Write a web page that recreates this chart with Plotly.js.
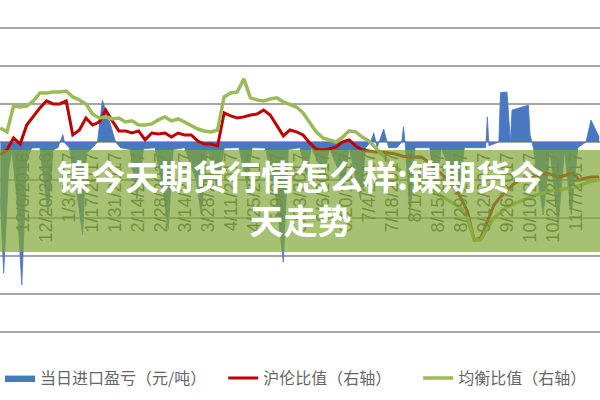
<!DOCTYPE html>
<html>
<head>
<meta charset="utf-8">
<script src="https://cdn.plot.ly/plotly-3.0.1.min.js"></script>
<style>html,body{margin:0;padding:0;background:#fff;}#chart{width:600px;height:400px;}</style>
</head>
<body>
<div id="chart"></div>
<script>
// ---- data ----
const lineDates = ['2016-11-22','2016-11-26','2016-11-30','2016-12-04','2016-12-08','2016-12-12','2016-12-16','2016-12-20','2016-12-24','2016-12-28',
'2017-01-01','2017-01-05','2017-01-09','2017-01-13','2017-01-17','2017-01-21','2017-01-25','2017-01-29','2017-02-02','2017-02-06',
'2017-02-10','2017-02-14','2017-02-18','2017-02-22','2017-02-26','2017-03-02','2017-03-06','2017-03-10','2017-03-14','2017-03-18',
'2017-03-22','2017-03-26','2017-03-30','2017-04-03','2017-04-07','2017-04-11','2017-04-15','2017-04-19','2017-04-23','2017-04-27',
'2017-05-01','2017-05-05','2017-05-09','2017-05-13','2017-05-17','2017-05-21','2017-05-25','2017-05-29','2017-06-02','2017-06-06',
'2017-06-10','2017-06-14','2017-06-18','2017-06-22','2017-06-26','2017-06-30','2017-07-04','2017-07-08','2017-07-12','2017-07-16',
'2017-07-20','2017-07-24','2017-07-28','2017-08-01','2017-08-05','2017-08-09','2017-08-13','2017-08-17','2017-08-21','2017-08-25',
'2017-08-29','2017-09-02','2017-09-06','2017-09-10','2017-09-14','2017-09-18','2017-09-22','2017-09-26','2017-09-30','2017-10-04',
'2017-10-08','2017-10-12','2017-10-16','2017-10-20','2017-10-24','2017-10-28','2017-11-01','2017-11-05','2017-11-09','2017-11-13',
'2017-11-17','2017-11-21'];

// 沪伦比值 (右轴)
const shLmeRatio = [7.532,7.558,7.621,7.589,7.689,7.737,7.779,7.816,7.800,7.800,
7.816,7.637,7.663,7.726,7.689,7.705,7.768,7.711,7.658,7.658,
7.647,7.658,7.611,7.647,7.642,7.647,7.626,7.647,7.637,7.637,
7.605,7.589,7.589,7.579,7.753,7.737,7.726,7.732,7.742,7.747,
7.768,7.742,7.689,7.632,7.663,7.653,7.637,7.595,7.563,7.558,
7.563,7.574,7.600,7.611,7.579,7.558,7.553,7.547,7.547,7.542,
7.537,7.526,7.521,7.521,7.521,7.495,7.463,7.432,7.400,7.358,
7.305,7.232,7.084,7.095,7.179,7.268,7.311,7.347,7.379,7.400,
7.411,7.416,7.426,7.437,7.426,7.416,7.426,7.437,7.400,7.411,
7.416,7.416];

// 均衡比值 (右轴)
const balanceRatio = [7.674,7.653,7.789,7.784,7.789,7.816,7.858,7.858,7.863,7.863,
7.868,7.837,7.821,7.800,7.747,7.726,7.732,7.721,7.726,7.705,
7.711,7.689,7.689,7.695,7.716,7.732,7.711,7.721,7.705,7.684,
7.668,7.658,7.653,7.663,7.837,7.858,7.863,7.932,7.832,7.821,
7.816,7.826,7.832,7.811,7.795,7.784,7.753,7.700,7.653,7.621,
7.611,7.600,7.626,7.658,7.653,7.626,7.605,7.568,7.532,7.500,
7.468,7.442,7.421,7.400,7.374,7.353,7.337,7.316,7.295,7.279,
7.253,7.200,7.084,7.084,7.147,7.200,7.232,7.258,7.274,7.289,
7.305,7.316,7.326,7.337,7.347,7.347,7.353,7.358,7.368,7.384,
7.395,7.400];

// 当日进口盈亏 (元/吨)
const profitDates = ['2016-11-22','2016-11-24','2016-11-27','2016-11-29','2016-12-02','2016-12-05','2016-12-08','2016-12-11','2016-12-16','2016-12-19',
'2016-12-21','2016-12-24','2016-12-27','2016-12-28','2016-12-30','2016-12-31','2017-01-03','2017-01-08','2017-01-11','2017-01-13',
'2017-01-17','2017-01-20','2017-01-23','2017-01-28','2017-01-31','2017-02-03','2017-02-09','2017-02-13','2017-02-17','2017-02-24',
'2017-03-01','2017-03-04','2017-03-07','2017-03-14','2017-03-21','2017-03-24','2017-03-28','2017-04-03','2017-04-07','2017-04-16',
'2017-04-21','2017-04-24','2017-05-02','2017-05-08','2017-05-13','2017-05-16','2017-05-23','2017-05-27','2017-05-30','2017-06-07',
'2017-06-10','2017-06-19','2017-06-22','2017-06-29','2017-07-02','2017-07-05','2017-07-07','2017-07-09','2017-07-13','2017-07-16',
'2017-07-21','2017-07-24','2017-07-25','2017-07-26','2017-07-29','2017-08-01','2017-08-10','2017-08-14','2017-08-17','2017-08-28',
'2017-08-31','2017-09-13','2017-09-14','2017-09-15','2017-09-21','2017-09-22','2017-09-26','2017-09-28','2017-09-29','2017-10-09',
'2017-10-10','2017-10-12','2017-10-18','2017-10-22','2017-10-27','2017-10-31','2017-11-04','2017-11-08','2017-11-13','2017-11-16',
'2017-11-21'];
const importProfit = [-1500,-3450,-740,-200,-1500,-3760,-470,-160,-150,-1260,
-1920,-210,-150,-20,190,-20,-160,-1500,-2450,-300,
-150,0,1100,450,0,-150,-200,-1500,-180,-150,
-1260,-2300,-200,-150,-1000,-1900,-180,-1260,-160,-150,
-1130,-150,-160,-1260,-3160,-200,-150,-870,-150,-870,
-150,-1130,-150,-1530,-150,0,240,-150,340,-150,
-150,0,400,0,-1970,-150,-150,-1260,-150,-1400,
-150,-150,660,-100,0,1300,1315,0,840,970,
180,-150,-1920,-200,-2180,-200,-1920,-150,0,580,
130];

const seriesNames = ['当日进口盈亏（元/吨）','沪伦比值（右轴）','均衡比值（右轴）'];
const titleText = '镍今天期货行情怎么样:镍期货今<br>天走势';

const legendFont = {family:'Noto Sans CJK SC, sans-serif', size:16, color:'#666666'};

const traces = [
  {x: profitDates, y: importProfit, name: seriesNames[0], type:'scatter', mode:'lines',
   fill:'tozeroy', fillcolor:'#4a78c0', line:{color:'#4a78c0', width:0.8}, yaxis:'y', legend:'legend'},
  {x: lineDates, y: shLmeRatio, name: seriesNames[1], type:'scatter', mode:'lines',
   line:{color:'#c00000', width:3}, yaxis:'y2', legend:'legend2'},
  {x: lineDates, y: balanceRatio, name: seriesNames[2], type:'scatter', mode:'lines',
   line:{color:'#9bbb59', width:3.5}, yaxis:'y2', legend:'legend3'}
];

const layout = {
  width:600, height:400,
  margin:{l:0, r:0, t:0, b:60, pad:0},
  paper_bgcolor:'#ffffff', plot_bgcolor:'#ffffff',
  showlegend:true,
  xaxis:{type:'date', range:['2016-11-21 18:00','2017-11-21 12:00'],
    tick0:'2016-11-22', dtick:14*86400000, tickformat:'%-m/%-d/%Y', tickangle:-90,
    tickfont:{family:'Liberation Sans, Arial, sans-serif', size:18, color:'#595959'},
    showgrid:false, zeroline:false, showline:false, ticks:'', automargin:false,
    anchor:'free', position:0.565},
  yaxis:{range:[-5210, 3737], dtick:1000, tick0:0, showticklabels:false, automargin:false,
    showgrid:true, gridcolor:'#a6a6a6', gridwidth:1.5, zeroline:false, showline:false, ticks:''},
  yaxis2:{overlaying:'y', side:'right', range:[6.558, 8.347], showgrid:false, automargin:false,
    showticklabels:false, zeroline:false, showline:false, ticks:''},
  legend:{orientation:'h', x:0, xanchor:'left', y:-0.112, yanchor:'middle', font:legendFont, bgcolor:'rgba(0,0,0,0)'},
  legend2:{orientation:'h', x:0.372, xanchor:'left', y:-0.112, yanchor:'middle', font:legendFont, bgcolor:'rgba(0,0,0,0)'},
  legend3:{orientation:'h', x:0.697, xanchor:'left', y:-0.112, yanchor:'middle', font:legendFont, bgcolor:'rgba(0,0,0,0)'},
  shapes:[{type:'rect', xref:'paper', yref:'paper', x0:0, x1:1, y0:0.2588, y1:0.5588,
    fillcolor:'rgba(128,166,52,0.7)', line:{width:0}, layer:'above'}],
  annotations:[{xref:'paper', yref:'paper', x:0.5, y:0.42, xanchor:'center', yanchor:'middle',
    text:titleText, showarrow:false,
    font:{family:'Noto Sans CJK SC, sans-serif', size:34, color:'#ffffff', weight:'bold'}}]
};

Plotly.newPlot('chart', traces, layout, {displayModeBar:false, staticPlot:true});
</script>
</body>
</html>
